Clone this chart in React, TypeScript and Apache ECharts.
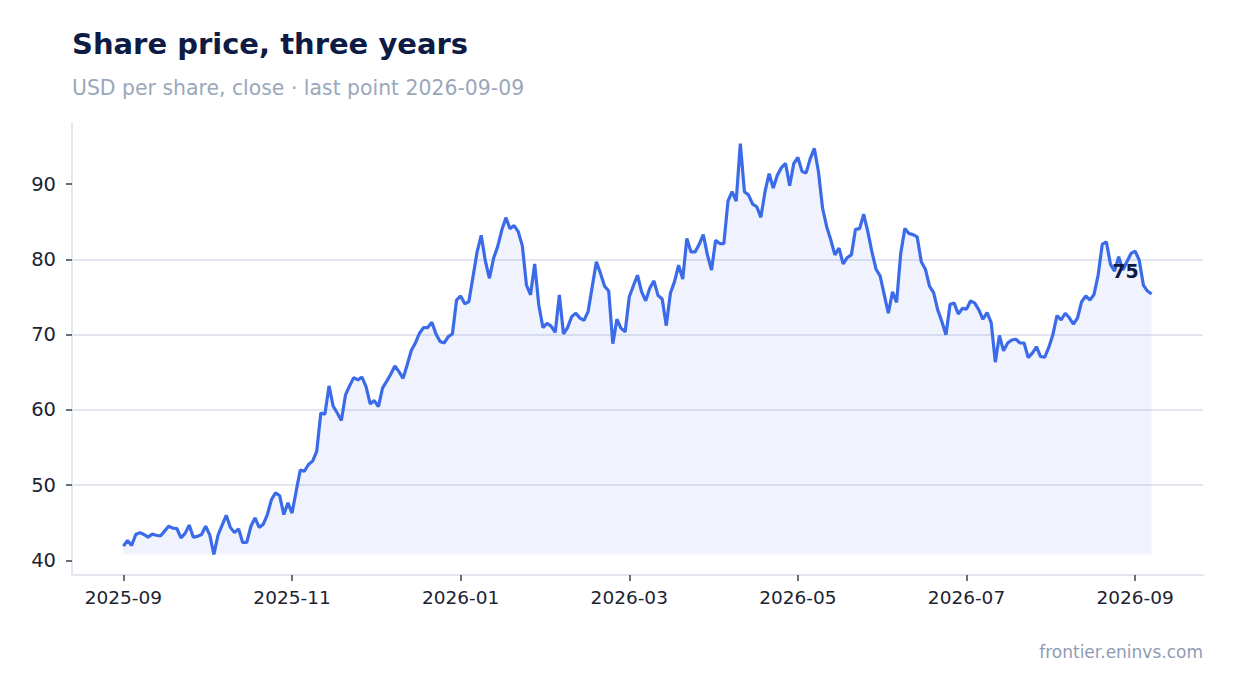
import { useEffect, useRef } from "react";
import * as echarts from "echarts";

// daily closes, one per session, 2025-09 .. 2026-09-09
const closes = [
  41.9, 42.65, 42.0, 43.45, 43.7, 43.45, 43.1, 43.5, 43.35, 43.25,
  43.9, 44.55, 44.3, 44.25, 43.0, 43.6, 44.7, 43.1, 43.2, 43.45,
  44.55, 43.4, 40.8, 43.35, 44.7, 46.0, 44.4, 43.7, 44.2, 42.4,
  42.4, 44.55, 45.65, 44.4, 44.8, 46.1, 48.1, 49.0, 48.6, 46.1,
  47.65, 46.3, 49.2, 52.0, 51.85, 52.75, 53.2, 54.5, 59.6, 59.45,
  63.2, 60.5, 59.6, 58.6, 62.0, 63.2, 64.3, 64.0, 64.35, 63.1,
  60.8, 61.25, 60.45, 62.9, 63.8, 64.75, 65.85, 65.1, 64.2, 66.0,
  67.9, 68.9, 70.2, 70.95, 70.95, 71.65, 70.1, 69.1, 68.9, 69.75,
  70.1, 74.6, 75.15, 74.1, 74.4, 77.7, 81.0, 83.2, 79.8, 77.5,
  80.15, 81.7, 83.9, 85.55, 84.1, 84.5, 83.7, 81.8, 76.6, 75.3,
  79.4, 73.95, 70.95, 71.5, 71.15, 70.3, 75.3, 70.1, 70.95, 72.4,
  72.85, 72.2, 71.9, 73.1, 76.4, 79.7, 78.15, 76.45, 75.8, 68.8,
  72.05, 70.85, 70.4, 75.05, 76.5, 77.9, 75.7, 74.5, 76.2, 77.15,
  75.2, 74.75, 71.2, 75.5, 77.05, 79.25, 77.4, 82.8, 81.0, 81.0,
  82.0, 83.3, 80.6, 78.6, 82.55, 82.1, 82.1, 87.75, 89.0, 87.75,
  95.4, 89.0, 88.55, 87.35, 87.0, 85.6, 89.0, 91.4, 89.5, 91.2,
  92.2, 92.75, 89.8, 92.75, 93.55, 91.7, 91.5, 93.4, 94.75, 91.65,
  86.8, 84.35, 82.6, 80.6, 81.5, 79.4, 80.25, 80.6, 84.0, 84.1,
  86.0, 83.7, 81.0, 78.7, 77.8, 75.3, 72.85, 75.7, 74.3, 80.8,
  84.1, 83.45, 83.3, 83.0, 79.7, 78.7, 76.45, 75.6, 73.3, 71.75,
  70.0, 74.05, 74.2, 72.75, 73.5, 73.4, 74.5, 74.2, 73.3, 72.05,
  72.95, 71.6, 66.35, 69.9, 67.85, 68.9, 69.3, 69.4, 68.9, 68.9,
  66.95, 67.55, 68.4, 67.1, 67.0, 68.3, 70.0, 72.55, 71.95, 72.85,
  72.25, 71.4, 72.25, 74.4, 75.15, 74.6, 75.35, 77.9, 82.0, 82.35,
  79.35, 78.45, 80.35, 78.6, 79.7, 80.8, 81.1, 79.9, 76.6, 75.8, 75.4,
];

// session index where each labelled month starts
const monthTickIdx = [0, 41, 82, 123, 164, 205, 246];
const monthTickLabels = ["2025-09", "2025-11", "2026-01", "2026-03", "2026-05", "2026-07", "2026-09"];

const yTicks = [40, 50, 60, 70, 80, 90];

const FONT = "DejaVu Sans";

export default function App() {
  const chartRef = useRef<HTMLDivElement | null>(null);

  useEffect(() => {
    if (!chartRef.current) return;
    const chart = echarts.init(chartRef.current, null, { renderer: "svg" });

    const n = closes.length;
    const xPad = (n - 1) * 0.05;
    const lo = Math.min(...closes);
    const hi = Math.max(...closes);
    const pad = (hi - lo) * 0.05;

    const data = closes.map((v, i) => {
      if (i < n - 1) return [i, v];
      return {
        value: [i, v],
        label: {
          show: true,
          position: "top",
          offset: [-26, -9],
          formatter: () => v.toFixed(0),
          fontFamily: FONT,
          fontSize: 19,
          fontWeight: "bold",
          color: "#0d1b45",
        },
      };
    });

    chart.setOption({
      animation: false,
      textStyle: { fontFamily: FONT },
      title: [
        {
          text: "Share price, three years",
          left: 72,
          top: 29,
          padding: 0,
          textStyle: { fontFamily: FONT, fontSize: 29, fontWeight: "bold", color: "#0d1b45" },
        },
        {
          text: "USD per share, close · last point 2026-09-09",
          left: 72,
          top: 78,
          padding: 0,
          textStyle: { fontFamily: FONT, fontSize: 20.4, fontWeight: "normal", color: "#9aa7bb" },
        },
        {
          text: "frontier.eninvs.com",
          right: 31,
          top: 643,
          padding: 0,
          textStyle: { fontFamily: FONT, fontSize: 17, fontWeight: "normal", color: "#8e9cb2" },
        },
      ],
      grid: { left: 72, right: 31, top: 123, bottom: 118 },
      xAxis: {
        type: "value",
        min: -xPad,
        max: n - 1 + xPad,
        axisLine: { show: true, onZero: false, lineStyle: { color: "#e3e7ef", width: 2 } },
        axisTick: {
          show: true,
          customValues: monthTickIdx,
          length: 6,
          lineStyle: { color: "#3a3f4b", width: 1.5 },
        },
        axisLabel: {
          customValues: monthTickIdx,
          formatter: (val: number) => monthTickLabels[monthTickIdx.indexOf(Math.round(val))] ?? "",
          fontFamily: FONT,
          fontSize: 18.5,
          color: "#1b2333",
          margin: 13,
        },
        splitLine: { show: false },
      },
      yAxis: {
        type: "value",
        min: lo - pad,
        max: hi + pad,
        axisLine: { show: true, onZero: false, lineStyle: { color: "#e3e7ef", width: 2 } },
        axisTick: {
          show: true,
          customValues: yTicks,
          length: 6,
          lineStyle: { color: "#3a3f4b", width: 1.5 },
        },
        axisLabel: {
          customValues: yTicks,
          fontFamily: FONT,
          fontSize: 19.5,
          color: "#1b2333",
          margin: 16,
        },
        splitLine: {
          show: true,
          showMinLine: false,
          showMaxLine: false,
          lineStyle: { color: "#e2e6ef", width: 2 },
        },
      },
      series: [
        {
          type: "line",
          data,
          symbol: "circle",
          symbolSize: 0,
          showSymbol: true,
          lineStyle: { color: "#3b6be8", width: 3.2 },
          itemStyle: { color: "#3b6be8" },
          areaStyle: { color: "rgba(59,107,232,0.11)", origin: lo },
          z: 3,
        },
      ],
    });

    return () => {
      chart.dispose();
    };
  }, []);

  return (
    <div
      ref={chartRef}
      style={{ position: "fixed", left: 0, top: 0, width: 1234, height: 693, background: "#fff" }}
    />
  );
}
